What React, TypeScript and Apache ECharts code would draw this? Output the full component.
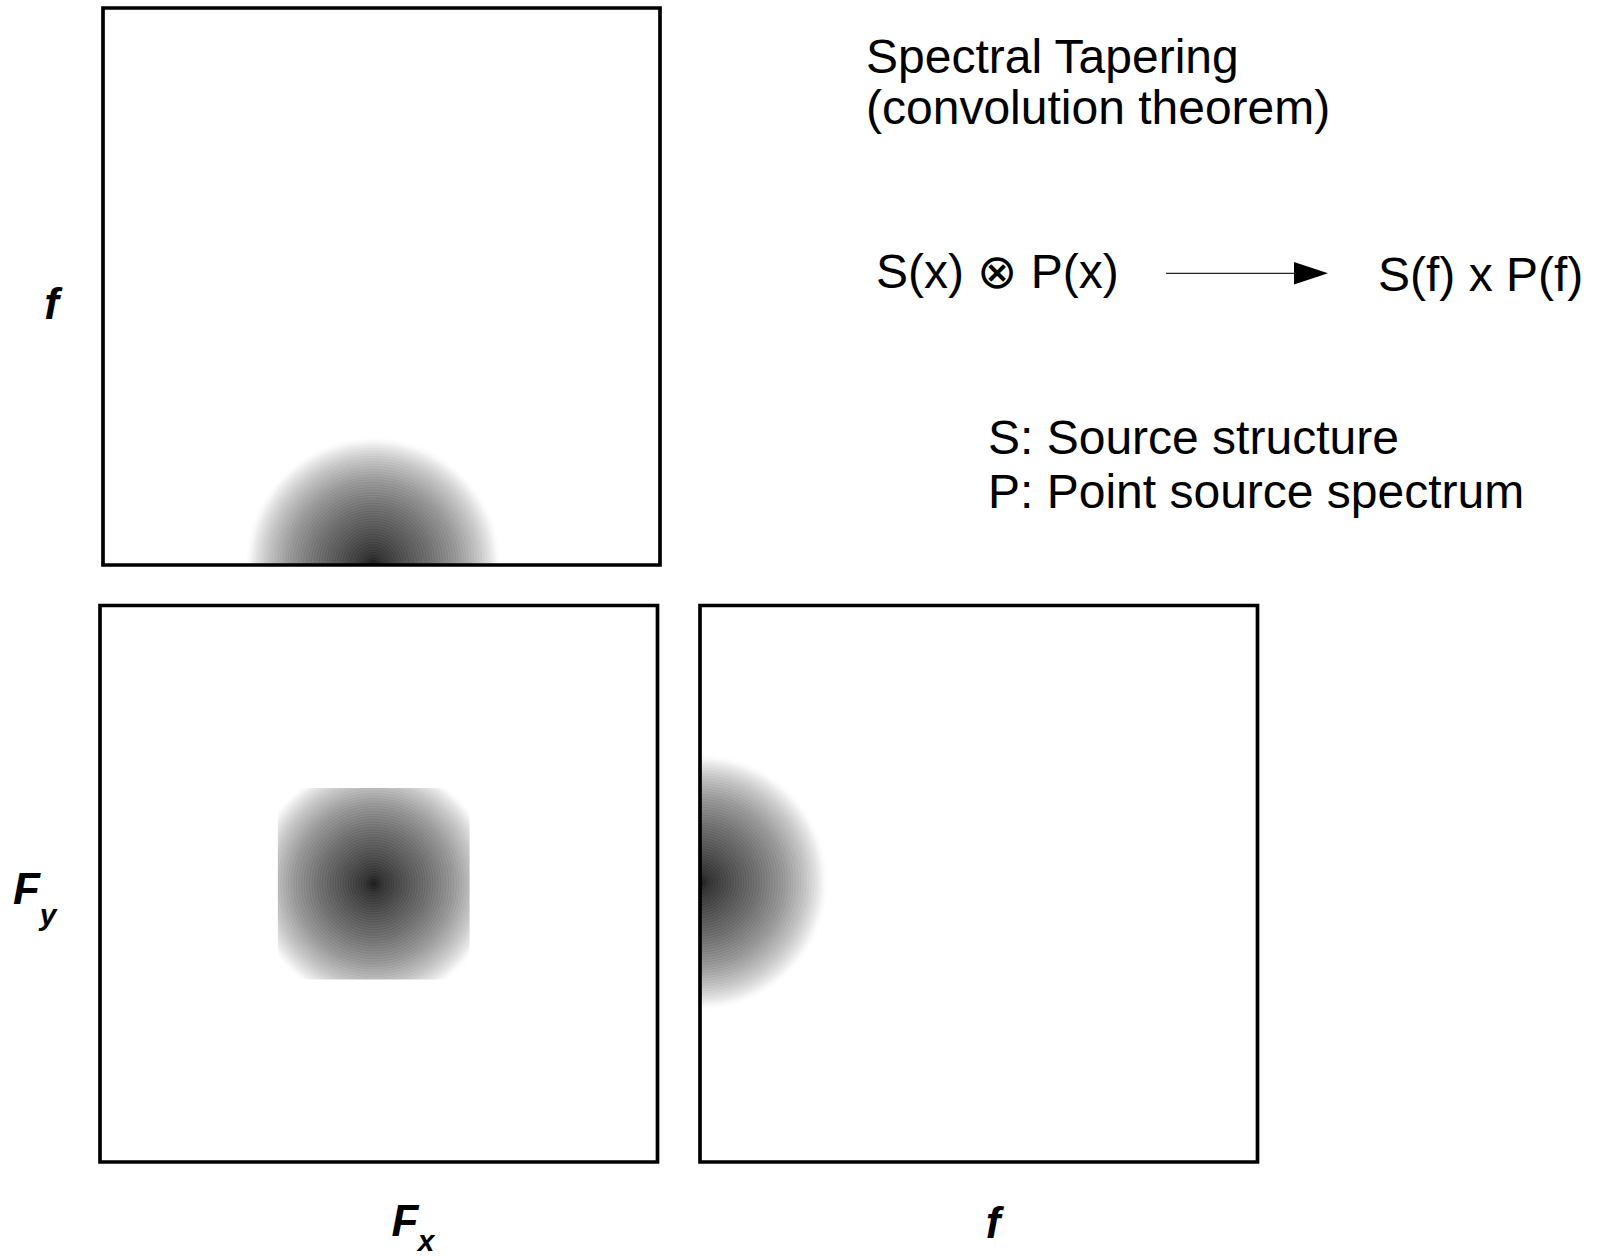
import React, { useEffect, useRef } from "react";
import * as echarts from "echarts";

// Taper blobs: one per panel, in axis units of that panel
const panelIds = ["fx-f", "fx-fy", "f-fy"];
const taperCenterX = [-0.015, -0.009, 0];
const taperCenterY = [0, 0, 0.003];
const taperRadius = [0.232, 0.22, 0.232];
const taperClipHalf = [0, 0.172, 0];

// Axis ranges
const xAxisNames = ["Fx", "Fx", "f"];
const xAxisMin = [-0.5, -0.5, 0];
const xAxisMax = [0.5, 0.5, 1];
const yAxisNames = ["f", "Fy", "Fy"];
const yAxisMin = [0, -0.5, -0.5];
const yAxisMax = [1, 0.5, 0.5];

// Texts
const titleLines = ["Spectral Tapering", "(convolution theorem)"];
const leftFormula = "S(x) \u2297 P(x)";
const rightFormula = "S(f) x P(f)";
const legendLines = ["S: Source structure", "P: Point source spectrum"];

const FONT = "'Liberation Sans', Arial, Helvetica, sans-serif";

const gridRects = [
  { left: 103, top: 8, width: 557, height: 557 },
  { left: 100, top: 605.5, width: 557.5, height: 556.5 },
  { left: 700, top: 605.5, width: 557.5, height: 556.5 },
];

const taperGradient = () =>
  new echarts.graphic.RadialGradient(0.5, 0.5, 0.5, [
    { offset: 0, color: "#202020" },
    { offset: 0.08, color: "#3a3a3a" },
    { offset: 0.25, color: "#575757" },
    { offset: 0.45, color: "#767676" },
    { offset: 0.65, color: "#9c9c9c" },
    { offset: 0.82, color: "#c8c8c8" },
    { offset: 0.93, color: "#ececec" },
    { offset: 1, color: "rgba(255,255,255,0)" },
  ]);

function bigText(text: string, x: number, y: number) {
  return {
    type: "text",
    x,
    y,
    style: {
      text,
      fill: "#000",
      font: `48px ${FONT}`,
      align: "left",
      verticalAlign: "middle",
    },
  };
}

function labelText(text: string, x: number, y: number, size: number) {
  return {
    type: "text",
    x,
    y,
    style: {
      text,
      fill: "#000",
      font: `italic bold ${size}px ${FONT}`,
      align: "center",
      verticalAlign: "middle",
    },
  };
}

export default function App() {
  const ref = useRef<HTMLDivElement>(null);

  useEffect(() => {
    if (!ref.current) return;
    const chart = echarts.init(ref.current, undefined, { renderer: "svg" });

    const grids = gridRects.map((g) => ({
      ...g,
      show: true,
      z: 5,
      backgroundColor: "transparent",
      borderColor: "#000",
      borderWidth: 3.7,
      containLabel: false,
    }));

    const hiddenAxis = {
      type: "value",
      axisLine: { show: false },
      axisTick: { show: false },
      axisLabel: { show: false },
      splitLine: { show: false },
    };

    const xAxes = panelIds.map((_, i) => ({
      ...hiddenAxis,
      gridIndex: i,
      name: "",
      min: xAxisMin[i],
      max: xAxisMax[i],
    }));
    const yAxes = panelIds.map((_, i) => ({
      ...hiddenAxis,
      gridIndex: i,
      name: "",
      min: yAxisMin[i],
      max: yAxisMax[i],
    }));

    const series = panelIds.map((id, i) => ({
      type: "custom",
      name: id,
      xAxisIndex: i,
      yAxisIndex: i,
      clip: true,
      z: 1,
      silent: true,
      data: [[taperCenterX[i], taperCenterY[i], taperRadius[i], taperClipHalf[i]]],
      renderItem: (params: any, api: any) => {
        const c = api.coord([api.value(0), api.value(1)]);
        const s = api.size([api.value(2), api.value(2)]);
        const r = (s[0] + s[1]) / 2;
        const clipHalf = api.value(3);
        const children: any[] = [
          {
            type: "circle",
            shape: { cx: c[0], cy: c[1], r },
            style: { fill: taperGradient() },
          },
        ];
        // fine concentric ring texture (decorative)
        for (let rr = 2; rr < r * 0.92; rr += 2.6) {
          const t = rr / r;
          children.push({
            type: "circle",
            shape: { cx: c[0], cy: c[1], r: rr },
            style: {
              fill: "none",
              stroke: `rgba(0,0,0,${(0.16 * (1 - t)).toFixed(3)})`,
              lineWidth: 1,
            },
          });
        }
        const el: any = { type: "group", children };
        if (clipHalf > 0) {
          const hs = api.size([clipHalf, clipHalf]);
          el.clipPath = {
            type: "rect",
            shape: {
              x: c[0] - hs[0],
              y: c[1] - hs[1],
              width: hs[0] * 2,
              height: hs[1] * 2,
            },
          };
        }
        return el;
      },
    }));

    const graphic: any[] = [
      bigText(titleLines[0], 866, 56.7),
      bigText(titleLines[1], 866, 107.8),
      bigText(leftFormula, 876, 271),
      bigText(rightFormula, 1378, 274),
      bigText(legendLines[0], 988, 437.6),
      bigText(legendLines[1], 988, 491.7),
      {
        type: "line",
        shape: { x1: 1166, y1: 273.3, x2: 1296, y2: 273.3 },
        style: { stroke: "#222", lineWidth: 1.3 },
      },
      {
        type: "polygon",
        shape: {
          points: [
            [1294, 262],
            [1328, 273.3],
            [1294, 284.5],
          ],
        },
        style: { fill: "#000" },
      },
      labelText(yAxisNames[0], 51.5, 303.6, 44),
      labelText("F", 26.5, 888.6, 44),
      labelText("y", 48, 914, 30),
      labelText("F", 405, 1220.6, 44),
      labelText("x", 426, 1240.5, 30),
      labelText(xAxisNames[2], 993, 1222.6, 44),
    ];

    chart.setOption({
      animation: false,
      backgroundColor: "#fff",
      grid: grids,
      xAxis: xAxes,
      yAxis: yAxes,
      series,
      graphic,
    });

    return () => chart.dispose();
  }, []);

  return (
    <div
      ref={ref}
      style={{ position: "absolute", left: 0, top: 0, width: 1601, height: 1256 }}
    />
  );
}
